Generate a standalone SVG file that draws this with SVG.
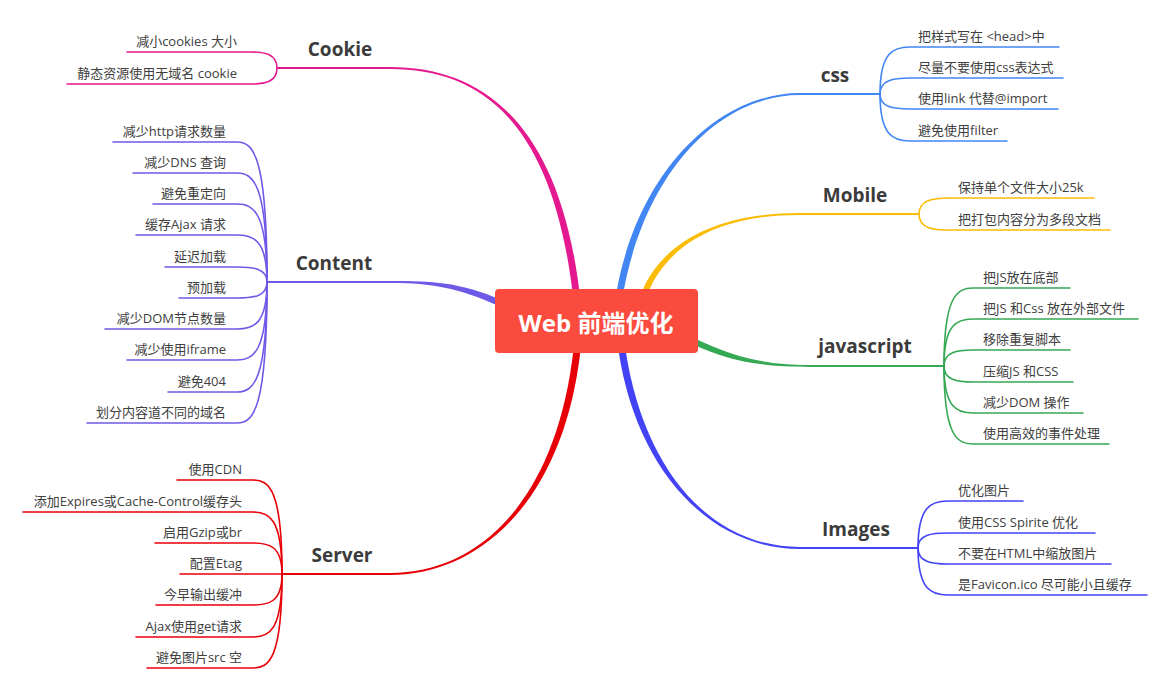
<svg xmlns="http://www.w3.org/2000/svg" width="1166" height="690" viewBox="0 0 1166 690">
<style>
text{font-family:"Open Sans","Noto Sans CJK SC",sans-serif;}
.t{font-size:13px;fill:#404040;}
.l{text-anchor:end;}
.m{font-size:19px;font-weight:bold;fill:#3b3b3b;text-anchor:middle;}
.c{font-size:24px;font-weight:bold;fill:#fff;text-anchor:middle;}
.ln{fill:none;stroke-width:1.6;stroke-linecap:round;}
.hz{fill:none;stroke-width:2;}
.pk{stroke:#E5198F;} .pu{stroke:#6D5AE6;} .rd{stroke:#E80009;} .bl{stroke:#4286F4;} .ye{stroke:#FBBC05;} .gr{stroke:#34A853;} .ib{stroke:#4343F5;}
</style>
<rect width="1166" height="690" fill="#fff"/>
<g id="connectors">
  <!-- main tapered branches -->
  <path fill="#E5198F" d="M579.5,292 C558.5,120 480,67 390,67 L390,69 C480,69 551.5,120 572.5,292 Z"/>
  <path class="hz pk" d="M391,68 L277,68"/>
  <path fill="#6D5AE6" d="M501.3,300.1 C461.3,282.1 430,281 393,281 L393,283 C430,283 458.7,287.9 498.7,305.9 Z"/>
  <path class="hz pu" d="M394,282 L267,282"/>
  <path fill="#E80009" d="M580.5,350.4 C563.5,500.4 480,575 390,575 L390,573 C480,573 556.5,499.6 573.5,349.6 Z"/>
  <path class="hz rd" d="M391,574 L282,574"/>
  <path fill="#4286F4" d="M623.4,292.6 C645.4,170.6 720,95 800,95 L800,93 C720,93 638.6,169.4 616.6,291.4 Z"/>
  <path class="hz bl" d="M799,94 L880,94"/>
  <path fill="#FBBC05" d="M647.6,293.4 C667.6,246.4 715,215 800,215 L800,213 C715,213 662.4,243.6 642.4,290.6 Z"/>
  <path class="hz ye" d="M799,214 L919,214"/>
  <path fill="#34A853" d="M693.7,344.7 C728.7,360.7 760,367 810,367 L810,365 C760,365 731.3,355.3 696.3,339.3 Z"/>
  <path class="hz gr" d="M809,366 L944,366"/>
  <path fill="#4343F5" d="M625.5,349.5 C643.5,469.5 710,547 800,547 L800,549 C710,549 636.5,470.5 618.5,350.5 Z"/>
  <path class="hz ib" d="M799,548 L918,548"/>
  <!-- cookie children -->
  <path class="ln pk" d="M277,68 C277,54 265,52 250,52 L127,52"/>
  <path class="ln pk" d="M277,68 C277,82 265,84 250,84 L67,84"/>
  <!-- content children -->
  <path class="ln pu" d="M267,282 C267,156 253.5,142 237,142 L113,142"/>
  <path class="ln pu" d="M267,282 C267,184 253.5,173 237,173 L133,173"/>
  <path class="ln pu" d="M267,282 C267,212 253.5,204 237,204 L153,204"/>
  <path class="ln pu" d="M267,282 C267,240 253.5,235 237,235 L136,235"/>
  <path class="ln pu" d="M267,282 C267,268.5 253.5,267 237,267 L165,267"/>
  <path class="ln pu" d="M267,282 C267,296.4 253.5,298 237,298 L179,298"/>
  <path class="ln pu" d="M267,282 C267,324.3 253.5,329 237,329 L105,329"/>
  <path class="ln pu" d="M267,282 C267,352 253.5,360 237,360 L127,360"/>
  <path class="ln pu" d="M267,282 C267,381 253.5,392 237,392 L168,392"/>
  <path class="ln pu" d="M267,282 C267,409 253.5,423 237,423 L87,423"/>
  <!-- server children -->
  <path class="ln rd" d="M282,574 C282,489 269,480 253,480 L177,480"/>
  <path class="ln rd" d="M282,574 C282,518 269,512 253,512 L23,512"/>
  <path class="ln rd" d="M282,574 C282,546 269,543 253,543 L155,543"/>
  <path class="ln rd" d="M282,574 L180,574"/>
  <path class="ln rd" d="M282,574 C282,602 269,605 253,605 L156,605"/>
  <path class="ln rd" d="M282,574 C282,631 269,637 253,637 L136,637"/>
  <path class="ln rd" d="M282,574 C282,659 269,668 253,668 L147,668"/>
  <!-- css children -->
  <path class="ln bl" d="M880,94 C880,52 893.5,47 910,47 L1059,47"/>
  <path class="ln bl" d="M880,94 C880,80 893.5,78 910,78 L1063,78"/>
  <path class="ln bl" d="M880,94 C880,107.5 893.5,109 910,109 L1058,109"/>
  <path class="ln bl" d="M880,94 C880,136 893.5,141 910,141 L1007,141"/>
  <!-- mobile children -->
  <path class="ln ye" d="M919,214 C919,200 933,198 950,198 L1094,198"/>
  <path class="ln ye" d="M919,214 C919,228.4 933,230 950,230 L1110,230"/>
  <!-- javascript children -->
  <path class="ln gr" d="M944,366 C944,296 957,288 973,288 L1070,288"/>
  <path class="ln gr" d="M944,366 C944,324 957,319 973,319 L1138,319"/>
  <path class="ln gr" d="M944,366 C944,352 957,350 973,350 L1070,350"/>
  <path class="ln gr" d="M944,366 C944,380 957,382 973,382 L1073,382"/>
  <path class="ln gr" d="M944,366 C944,408 957,413 973,413 L1083,413"/>
  <path class="ln gr" d="M944,366 C944,436 957,444 973,444 L1109,444"/>
  <!-- images children -->
  <path class="ln ib" d="M918,548 C918,506 931.5,501 948,501 L1023,501"/>
  <path class="ln ib" d="M918,548 C918,534.5 931.5,533 948,533 L1095,533"/>
  <path class="ln ib" d="M918,548 C918,562 931.5,564 948,564 L1111,564"/>
  <path class="ln ib" d="M918,548 C918,590 931.5,595 948,595 L1147,595"/>
</g>
<g id="center"><rect x="495" y="289" width="203" height="64" rx="4" fill="#FB4A3E"/><text class="c" x="596" y="332">Web 前端优化</text></g>
<g id="cookie"><text class="m" x="340" y="56">Cookie</text></g>
<g id="content"><text class="m" x="334" y="270">Content</text></g>
<g id="server"><text class="m" x="342" y="562">Server</text></g>
<g id="css"><text class="m" x="835" y="82">css</text></g>
<g id="mobile"><text class="m" x="855" y="202">Mobile</text></g>
<g id="javascript"><text class="m" x="865" y="353">javascript</text></g>
<g id="images"><text class="m" x="856" y="536">Images</text></g>
<g id="cookie-1"><text class="t l" x="237" y="46">减小cookies 大小</text></g>
<g id="cookie-2"><text class="t l" x="237" y="78">静态资源使用无域名 cookie</text></g>
<g id="content-1"><text class="t l" x="226" y="136">减少http请求数量</text></g>
<g id="content-2"><text class="t l" x="226" y="167">减少DNS 查询</text></g>
<g id="content-3"><text class="t l" x="226" y="198">避免重定向</text></g>
<g id="content-4"><text class="t l" x="226" y="229">缓存Ajax 请求</text></g>
<g id="content-5"><text class="t l" x="226" y="261">延迟加载</text></g>
<g id="content-6"><text class="t l" x="226" y="292">预加载</text></g>
<g id="content-7"><text class="t l" x="226" y="323">减少DOM节点数量</text></g>
<g id="content-8"><text class="t l" x="226" y="354">减少使用iframe</text></g>
<g id="content-9"><text class="t l" x="226" y="386">避免404</text></g>
<g id="content-10"><text class="t l" x="226" y="417">划分内容道不同的域名</text></g>
<g id="server-1"><text class="t l" x="242" y="474">使用CDN</text></g>
<g id="server-2"><text class="t l" x="242" y="506">添加Expires或Cache-Control缓存头</text></g>
<g id="server-3"><text class="t l" x="242" y="537">启用Gzip或br</text></g>
<g id="server-4"><text class="t l" x="242" y="568">配置Etag</text></g>
<g id="server-5"><text class="t l" x="242" y="599">今早输出缓冲</text></g>
<g id="server-6"><text class="t l" x="242" y="631">Ajax使用get请求</text></g>
<g id="server-7"><text class="t l" x="242" y="662">避免图片src 空</text></g>
<g id="css-1"><text class="t" x="918" y="41">把样式写在 &lt;head&gt;中</text></g>
<g id="css-2"><text class="t" x="918" y="72">尽量不要使用css表达式</text></g>
<g id="css-3"><text class="t" x="918" y="103">使用link 代替@import</text></g>
<g id="css-4"><text class="t" x="918" y="135">避免使用filter</text></g>
<g id="mobile-1"><text class="t" x="958" y="192">保持单个文件大小25k</text></g>
<g id="mobile-2"><text class="t" x="958" y="224">把打包内容分为多段文档</text></g>
<g id="javascript-1"><text class="t" x="983" y="282">把JS放在底部</text></g>
<g id="javascript-2"><text class="t" x="983" y="313">把JS 和Css 放在外部文件</text></g>
<g id="javascript-3"><text class="t" x="983" y="344">移除重复脚本</text></g>
<g id="javascript-4"><text class="t" x="983" y="376">压缩JS 和CSS</text></g>
<g id="javascript-5"><text class="t" x="983" y="407">减少DOM 操作</text></g>
<g id="javascript-6"><text class="t" x="983" y="438">使用高效的事件处理</text></g>
<g id="images-1"><text class="t" x="958" y="495">优化图片</text></g>
<g id="images-2"><text class="t" x="958" y="527">使用CSS Spirite 优化</text></g>
<g id="images-3"><text class="t" x="958" y="558">不要在HTML中缩放图片</text></g>
<g id="images-4"><text class="t" x="958" y="589">是Favicon.ico 尽可能小且缓存</text></g>
</svg>
